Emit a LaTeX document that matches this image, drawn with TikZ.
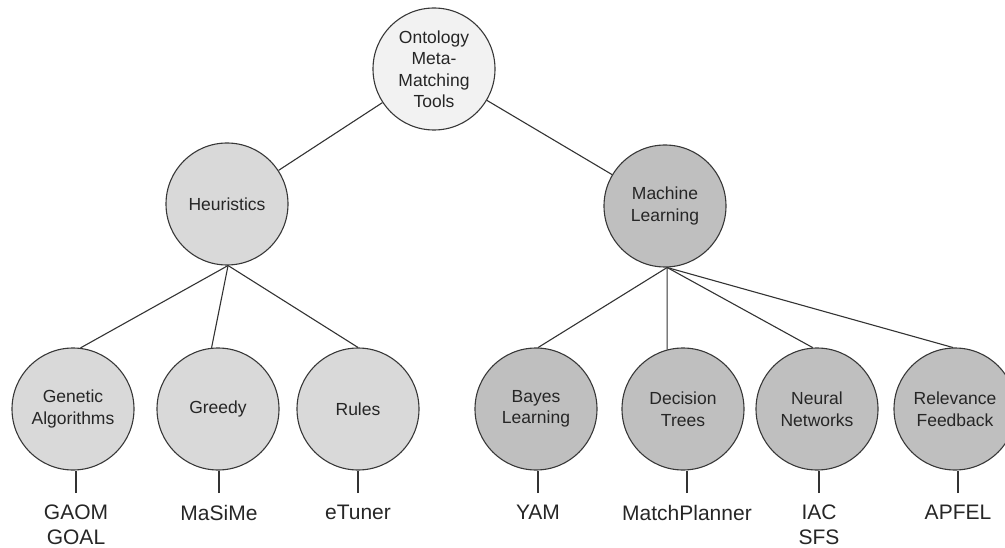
\documentclass[tikz,border=0pt]{standalone}
\usepackage{fontspec}
\setmainfont{Liberation Sans}
\begin{document}
\begin{tikzpicture}[x=1pt,y=-1pt,
  every node/.style={text=black!85},
  circ/.style={circle,draw=black!78,line width=1.1pt,minimum size=122pt,inner sep=0pt,align=center,font=\fontsize{17.5}{21.5}\selectfont},
  rootc/.style={circ,fill=black!5},
  heurc/.style={circ,fill=black!15},
  mlc/.style={circ,fill=black!25},
  conn/.style={draw=black!80,line width=1.1pt},
  lbl/.style={anchor=north,inner sep=0pt,outer sep=12pt,align=center,font=\fontsize{21}{25}\selectfont}
]
\useasboundingbox (0,0) rectangle (1005,548);

\node[rootc] (root) at (434,69) {Ontology\\Meta-\\Matching\\Tools};
\node[heurc] (heur) at (227,204) {Heuristics};
\node[mlc] (ml) at (665,206) {Machine\\Learning};

\node[heurc] (ga) at (73,409) {Genetic\\Algorithms};
\node[heurc] (gr) at (218,409) {Greedy};
\node[heurc] (ru) at (358,409) {Rules};
\node[mlc] (bl) at (536,409) {Bayes\\Learning};
\node[mlc] (dt) at (683,409) {Decision\\Trees};
\node[mlc] (nn) at (817,409) {Neural\\Networks};
\node[mlc] (rf) at (955,409) {Relevance\\Feedback};

\draw[conn] (root) -- (heur);
\draw[conn] (root) -- (ml);

\draw[conn] (heur.271) -- (ga.83);
\draw[conn] (heur.271) -- (gr.96);
\draw[conn] (heur.271) -- (ru.north);

\draw[conn] (ml.272) -- (bl.88);
\draw[conn] (ml.272) -- (dt.105);
\draw[conn] (ml.272) -- (nn.94);
\draw[conn] (ml.272) -- (rf.92);

\node[lbl] (lga) at (76,493) {GAOM\\GOAL};
\node[lbl] (lgr) at (219,493) {MaSiMe};
\node[lbl] (lru) at (358,493) {eTuner};
\node[lbl] (lbl) at (538,493) {YAM};
\node[lbl] (ldt) at (687,493) {MatchPlanner};
\node[lbl] (lnn) at (819,493) {IAC\\SFS};
\node[lbl] (lrf) at (958,493) {APFEL};

\foreach \c/\l in {ga/lga,gr/lgr,ru/lru,bl/lbl,dt/ldt,nn/lnn,rf/lrf}
  \draw[conn] (\l.north) -- (\l.north |- \c.south);
\end{tikzpicture}
\end{document}
